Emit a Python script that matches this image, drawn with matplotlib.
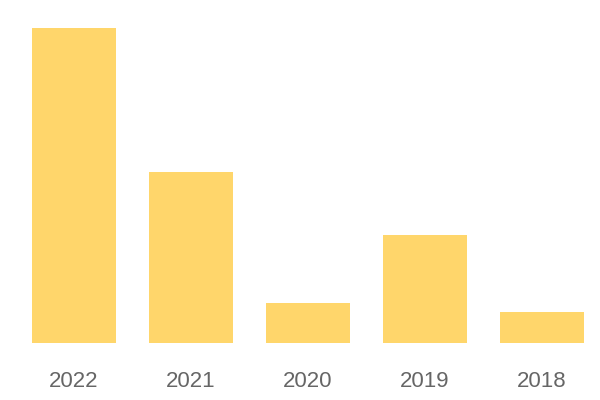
import matplotlib.pyplot as plt

years = ['2022', '2021', '2020', '2019', '2018']
values = [315, 171, 40, 108, 31]

fig = plt.figure(figsize=(6, 4), dpi=100)
ax = fig.add_axes([0, 57 / 400, 1, 343 / 400])

x = list(range(len(years)))
ax.bar(x, values, width=0.72, color='#FFD66B')

ax.set_xlim(-74 / 117, (600 - 74) / 117)
ax.set_ylim(0, 343)
ax.set_xticks(x)
ax.set_xticklabels(years, fontsize=16, color='#666666',
                   family=['Liberation Sans', 'DejaVu Sans'])
ax.tick_params(axis='x', length=0, pad=20)
ax.set_yticks([])
for s in ax.spines.values():
    s.set_visible(False)

fig.savefig('out.png', dpi=100)
